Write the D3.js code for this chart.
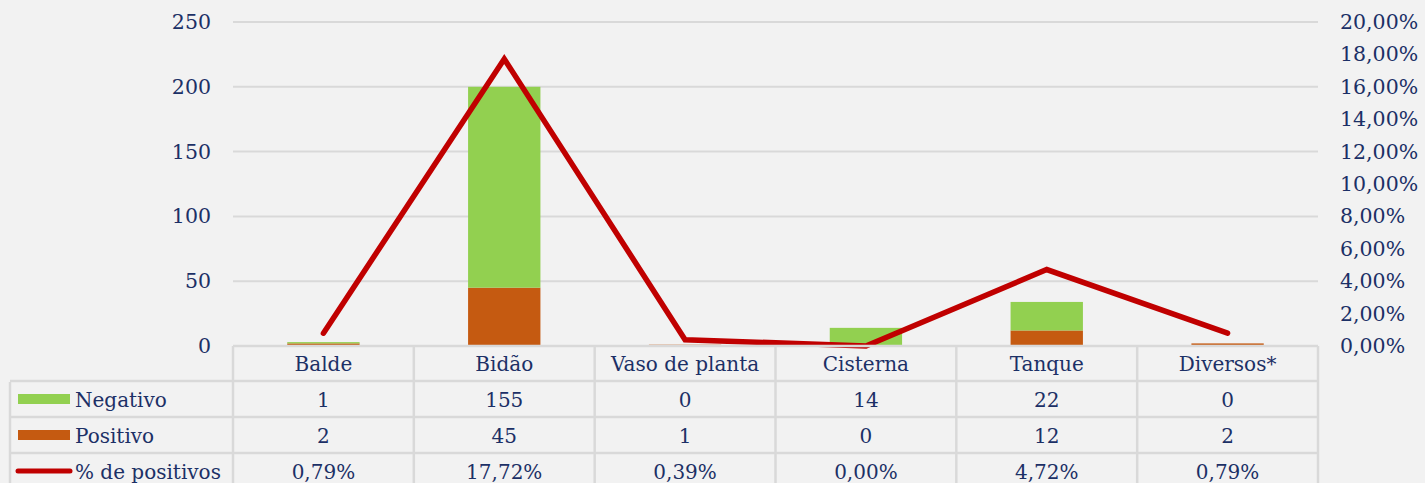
<!DOCTYPE html>
<html>
<head>
<meta charset="utf-8">
<script src="https://cdn.jsdelivr.net/npm/d3@7"></script>
<style>
  body { margin: 0; background: #f2f2f2; }
  svg { display: block; }
  text { font-family: "DejaVu Serif", Georgia, serif; fill: #1c3066; }
</style>
</head>
<body>
<svg id="chart" width="1425" height="483"></svg>
<script>
// data
const categories = ["Balde", "Bidão", "Vaso de planta", "Cisterna", "Tanque", "Diversos*"];
const negativo = [1, 155, 0, 14, 22, 0];
const positivo = [2, 45, 1, 0, 12, 2];
const pctPositivos = [0.79, 17.72, 0.39, 0.00, 4.72, 0.79];
const leftTicks = [0, 50, 100, 150, 200, 250];
const rightTicks = [0, 2, 4, 6, 8, 10, 12, 14, 16, 18, 20];

const green = "#92d050", orange = "#c55a11", red = "#c00000", grid = "#d9d9d9";
const txt = "#1c3066";

const svg = d3.select("#chart");
const plotL = 233, plotR = 1318, plotT = 22, base = 346;
const rowH = 36;

let x = d3.scaleBand().domain(categories).range([plotL, plotR]).paddingInner(0).paddingOuter(0);
let yL = d3.scaleLinear().domain([0, 250]).range([base, plotT]);
let yR = d3.scaleLinear().domain([0, 20]).range([base, plotT]);

// gridlines
svg.append("g")
    .selectAll("line")
    .data(leftTicks.filter(d => d > 0))
    .join("line")
    .attr("x1", plotL).attr("x2", plotR)
    .attr("y1", d => yL(d)).attr("y2", d => yL(d))
    .attr("stroke", grid).attr("stroke-width", 2);

// left axis
let axL = svg.append("g")
    .attr("transform", `translate(${plotL},0)`)
    .call(d3.axisLeft(yL).tickValues(leftTicks).tickSize(0).tickPadding(22).tickFormat(d3.format("d")));
axL.select(".domain").remove();
axL.selectAll("text").attr("font-size", 20.5).style("fill", txt)
    .style("font-family", "'DejaVu Serif', Georgia, serif");

// right axis
let fmtPct = d => d.toFixed(2).replace(".", ",") + "%";
let axR = svg.append("g")
    .attr("transform", `translate(${plotR},0)`)
    .call(d3.axisRight(yR).tickValues(rightTicks).tickSize(0).tickPadding(22).tickFormat(fmtPct));
axR.select(".domain").remove();
axR.selectAll("text").attr("font-size", 20.5).style("fill", txt)
    .style("font-family", "'DejaVu Serif', Georgia, serif");

// stacked bars
let stackData = categories.map((c, i) => ({cat: c, Positivo: positivo[i], Negativo: negativo[i]}));
let series = d3.stack().keys(["Positivo", "Negativo"])(stackData);
let colors = {Positivo: orange, Negativo: green};
let bw = x.bandwidth() * 0.4;

svg.append("g")
    .selectAll("g")
    .data(series)
    .join("g")
    .attr("fill", d => colors[d.key])
    .selectAll("rect")
    .data(d => d)
    .join("rect")
    .attr("x", d => x(d.data.cat) + (x.bandwidth() - bw) / 2)
    .attr("width", bw)
    .attr("y", d => yL(d[1]))
    .attr("height", d => yL(d[0]) - yL(d[1]));

// line
let line = d3.line()
    .x((d, i) => x(categories[i]) + x.bandwidth() / 2)
    .y(d => yR(d));

svg.append("path")
    .datum(pctPositivos)
    .attr("d", line)
    .attr("fill", "none")
    .attr("stroke", red)
    .attr("stroke-width", 5.5)
    .attr("stroke-linecap", "round")
    .attr("stroke-linejoin", "miter");

// data table
let tbl = svg.append("g");
let tableLeft = 10;
let rows = [
    {name: "Negativo", vals: negativo.map(String), key: "neg"},
    {name: "Positivo", vals: positivo.map(String), key: "pos"},
    {name: "% de positivos", vals: pctPositivos.map(fmtPct), key: "pct"}
];

let bc = grid;
categories.forEach((c, i) => {
    tbl.append("line")
        .attr("x1", x(c)).attr("x2", x(c))
        .attr("y1", base).attr("y2", 483)
        .attr("stroke", bc).attr("stroke-width", 2.5);
});
tbl.append("line").attr("x1", plotR).attr("x2", plotR).attr("y1", base).attr("y2", 483)
    .attr("stroke", bc).attr("stroke-width", 2.5);
tbl.append("line").attr("x1", tableLeft).attr("x2", tableLeft).attr("y1", base + rowH).attr("y2", 483)
    .attr("stroke", bc).attr("stroke-width", 2.5);
tbl.append("line").attr("x1", plotL).attr("x2", plotR).attr("y1", base).attr("y2", base)
    .attr("stroke", bc).attr("stroke-width", 2.5);
for (let r = 1; r <= 3; r++) {
    tbl.append("line").attr("x1", tableLeft).attr("x2", plotR)
        .attr("y1", base + r * rowH - 1).attr("y2", base + r * rowH - 1)
        .attr("stroke", bc).attr("stroke-width", 2.5);
}

// header labels
tbl.selectAll("text.cat")
    .data(categories)
    .join("text")
    .attr("class", "cat")
    .attr("x", d => x(d) + x.bandwidth() / 2)
    .attr("y", base + rowH / 2 + 7)
    .attr("text-anchor", "middle")
    .attr("font-size", 20)
    .text(d => d);

rows.forEach((row, r) => {
    let cy = base + (r + 1) * rowH + rowH / 2;
    if (row.key === "pct") {
        tbl.append("line").attr("x1", 18).attr("x2", 70).attr("y1", cy - 1).attr("y2", cy - 1)
            .attr("stroke", red).attr("stroke-width", 5).attr("stroke-linecap", "round");
    } else {
        tbl.append("rect").attr("x", 18).attr("y", cy - 6).attr("width", 52).attr("height", 10)
            .attr("fill", row.key === "neg" ? green : orange);
    }
    tbl.append("text")
        .attr("x", 75).attr("y", cy + 7)
        .attr("font-size", 20)
        .text(row.name);
    tbl.selectAll("text.v" + r)
        .data(row.vals)
        .join("text")
        .attr("class", "v" + r)
        .attr("x", (d, i) => x(categories[i]) + x.bandwidth() / 2)
        .attr("y", cy + 7)
        .attr("text-anchor", "middle")
        .attr("font-size", 20)
        .text(d => d);
});
</script>
</body>
</html>
